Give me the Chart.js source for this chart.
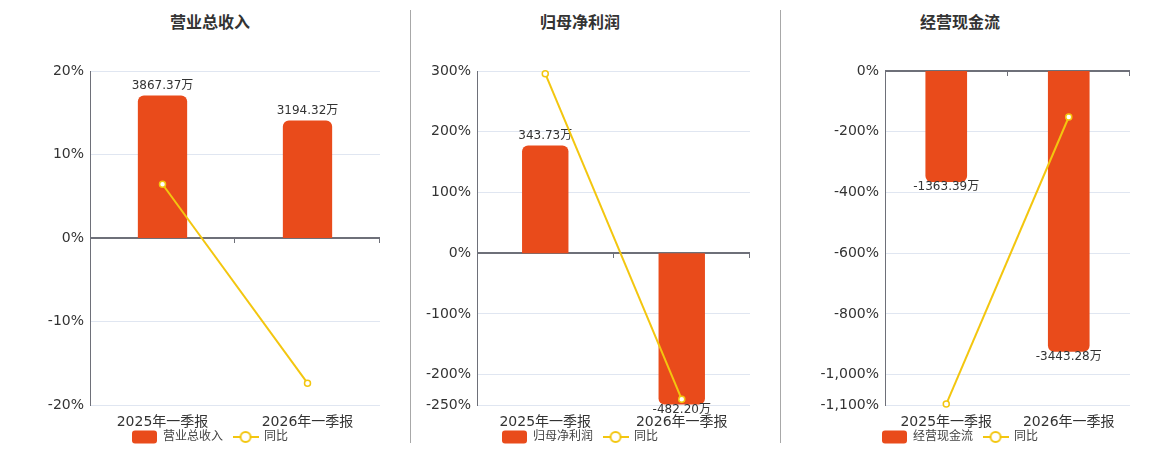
<!DOCTYPE html>
<html>
<head>
<meta charset="utf-8">
<script src="https://cdn.jsdelivr.net/npm/chart.js@4.4.1/dist/chart.umd.min.js"></script>
<style>
html,body{margin:0;padding:0;background:#fff;overflow:hidden;width:1160px;height:450px;}
.wrap{position:relative;width:1160px;height:450px;overflow:hidden;}
canvas{position:absolute;top:0;}
.title{position:absolute;top:13px;width:300px;text-align:center;font-weight:bold;font-size:16px;font-family:'DejaVu Sans','Noto Sans CJK SC',sans-serif;color:#333;line-height:20px;}
.sep{position:absolute;top:10px;width:1px;height:433px;background:#a8a8a8;}
</style>
</head>
<body>
<div class="wrap">
  <div class="sep" style="left:410px"></div>
  <div class="sep" style="left:780px"></div>
  <div class="title" style="left:60px">营业总收入</div>
  <div class="title" style="left:430px">归母净利润</div>
  <div class="title" style="left:810px">经营现金流</div>
  <canvas id="c1" width="400" height="453" style="left:0px"></canvas>
  <canvas id="c2" width="360" height="453" style="left:400px"></canvas>
  <canvas id="c3" width="360" height="453" style="left:780px"></canvas>
</div>
<script>
// ---- data ----
const categories = ['2025年一季报', '2026年一季报'];

const revenueName = '营业总收入';
const revenueValues = [3867.37, 3194.32];   // 万
const revenueYoY = [6.44, -17.39];          // %
const revenueTicks = [-20, -10, 0, 10, 20];

const profitName = '归母净利润';
const profitValues = [343.73, -482.20];
const profitYoY = [295.5, -240.6];
const profitTicks = [-250, -200, -100, 0, 100, 200, 300];

const cashName = '经营现金流';
const cashValues = [-1363.39, -3443.28];
const cashYoY = [-1097, -151.5];
const cashTicks = [-1100, -1000, -800, -600, -400, -200, 0];

const yoyName = '同比';

// ---- styles ----
const FONT = "'DejaVu Sans', 'Noto Sans CJK SC', sans-serif";
const BAR = '#e94b1b';
const LINE = '#f3c60f';
Chart.defaults.font.family = FONT;

function makeBarIcon(color) {
  const c = document.createElement('canvas');
  c.width = 25; c.height = 14;
  const g = c.getContext('2d');
  const r = 3, w = 25, h = 13, x = 0, y = 0.5;
  g.fillStyle = color;
  g.beginPath();
  g.moveTo(x + r, y);
  g.lineTo(x + w - r, y);
  g.quadraticCurveTo(x + w, y, x + w, y + r);
  g.lineTo(x + w, y + h - r);
  g.quadraticCurveTo(x + w, y + h, x + w - r, y + h);
  g.lineTo(x + r, y + h);
  g.quadraticCurveTo(x, y + h, x, y + h - r);
  g.lineTo(x, y + r);
  g.quadraticCurveTo(x, y, x + r, y);
  g.closePath();
  g.fill();
  return c;
}
function makeLineIcon(color) {
  const c = document.createElement('canvas');
  c.width = 26; c.height = 14;
  const g = c.getContext('2d');
  g.strokeStyle = color;
  g.lineWidth = 2;
  g.beginPath(); g.moveTo(0, 7); g.lineTo(26, 7); g.stroke();
  g.beginPath(); g.arc(13, 7, 5, 0, Math.PI * 2);
  g.fillStyle = '#fff'; g.fill(); g.stroke();
  return c;
}
const barIcon = makeBarIcon(BAR);
const lineIcon = makeLineIcon(LINE);

const zeroAxis = {
  id: 'zeroAxis',
  afterLayout(chart) {
    // let category labels extend below the compact x-axis box without clipping
    const x = chart.scales.x;
    x.bottom = x.top + 34;
  },
  beforeDatasetsDraw(chart) {
    const {ctx, chartArea: a, scales: {x, y}} = chart;
    const y0 = Math.round(y.getPixelForValue(0));
    ctx.save();
    ctx.strokeStyle = '#6e7079';
    ctx.lineWidth = 2;
    ctx.beginPath(); ctx.moveTo(a.left, y0); ctx.lineTo(a.right, y0); ctx.stroke();
    ctx.lineWidth = 1;
    for (let i = 0; i < categories.length; i++) {
      const xb = Math.round(x.getPixelForValue(i + 0.5)) - 0.5;
      ctx.beginPath(); ctx.moveTo(xb, y0); ctx.lineTo(xb, y0 + 5); ctx.stroke();
    }
    ctx.restore();
  }
};

const barLabels = {
  id: 'barLabels',
  afterDatasetDraw(chart, args) {
    if (args.index !== 0) return;
    const ctx = chart.ctx;
    const ds = chart.data.datasets[0];
    ctx.save();
    ctx.font = '12px ' + FONT;
    ctx.fillStyle = '#333';
    ctx.textAlign = 'center';
    args.meta.data.forEach((el, i) => {
      const v = ds.data[i];
      const t = v.toFixed(2) + '万';
      if (v >= 0) { ctx.textBaseline = 'bottom'; ctx.fillText(t, el.x, el.y - 4); }
      else { ctx.textBaseline = 'top'; ctx.fillText(t, el.x, el.y - 1); }
    });
    ctx.restore();
  }
};

function buildPanel(id, o) {
  new Chart(document.getElementById(id), {
    data: {
      labels: categories,
      datasets: [
        {
          type: 'bar', label: o.name, data: o.values, yAxisID: 'yb',
          backgroundColor: BAR, borderRadius: 6, borderSkipped: 'start',
          barPercentage: 0.34, categoryPercentage: 1, order: 2
        },
        {
          type: 'line', label: yoyName, data: o.yoy, yAxisID: 'y',
          borderColor: LINE, borderWidth: 2, tension: 0,
          pointRadius: 3, pointBorderWidth: 1.5,
          pointBackgroundColor: '#fff', pointBorderColor: LINE,
          order: 1, clip: 8
        }
      ]
    },
    options: {
      responsive: false,
      animation: false,
      layout: {padding: {top: 71, left: o.padL, right: o.padR, bottom: 0}},
      plugins: {
        tooltip: {enabled: false},
        legend: {
          position: 'bottom',
          labels: {
            usePointStyle: true, pointStyleWidth: 25, padding: 10,
            font: {size: 12}, color: '#444',
            generateLabels: () => [
              {text: o.name, pointStyle: barIcon, datasetIndex: 0, hidden: false, fontColor: '#444', lineWidth: 0, fillStyle: BAR, strokeStyle: BAR},
              {text: yoyName, pointStyle: lineIcon, datasetIndex: 1, hidden: false, fontColor: '#444', lineWidth: 0, fillStyle: LINE, strokeStyle: LINE}
            ]
          }
        }
      },
      scales: {
        x: {
          grid: {display: false, drawTicks: false},
          border: {display: false},
          ticks: {font: {size: 14}, color: '#333', padding: 9},
          afterFit(s) { s.height = 16; }
        },
        y: {
          position: 'left',
          min: o.ticks[0], max: o.ticks[o.ticks.length - 1],
          grid: {color: '#e0e6f1', drawTicks: false},
          border: {display: true, color: '#6e7079', width: 1},
          ticks: {
            font: {size: 14}, color: '#333', padding: 6,
            callback: v => v.toLocaleString('en-US') + '%'
          },
          afterBuildTicks(s) { s.ticks = o.ticks.map(v => ({value: v})); },
          afterFit(s) { s.width = o.yW; }
        },
        yb: {display: false, min: o.bmin, max: o.bmax}
      }
    },
    plugins: [zeroAxis, barLabels]
  });
}

buildPanel('c1', {name: revenueName, values: revenueValues, yoy: revenueYoY, ticks: revenueTicks,
  padL: 40, padR: 20, yW: 50, bmin: -4536, bmax: 4536});
buildPanel('c2', {name: profitName, values: profitValues, yoy: profitYoY, ticks: profitTicks,
  padL: 10, padR: 10, yW: 67, bmin: -484, bmax: 581});
buildPanel('c3', {name: cashName, values: cashValues, yoy: cashYoY, ticks: cashTicks,
  padL: 10, padR: 10, yW: 95, bmin: -4098, bmax: 0});
</script>
</body>
</html>
